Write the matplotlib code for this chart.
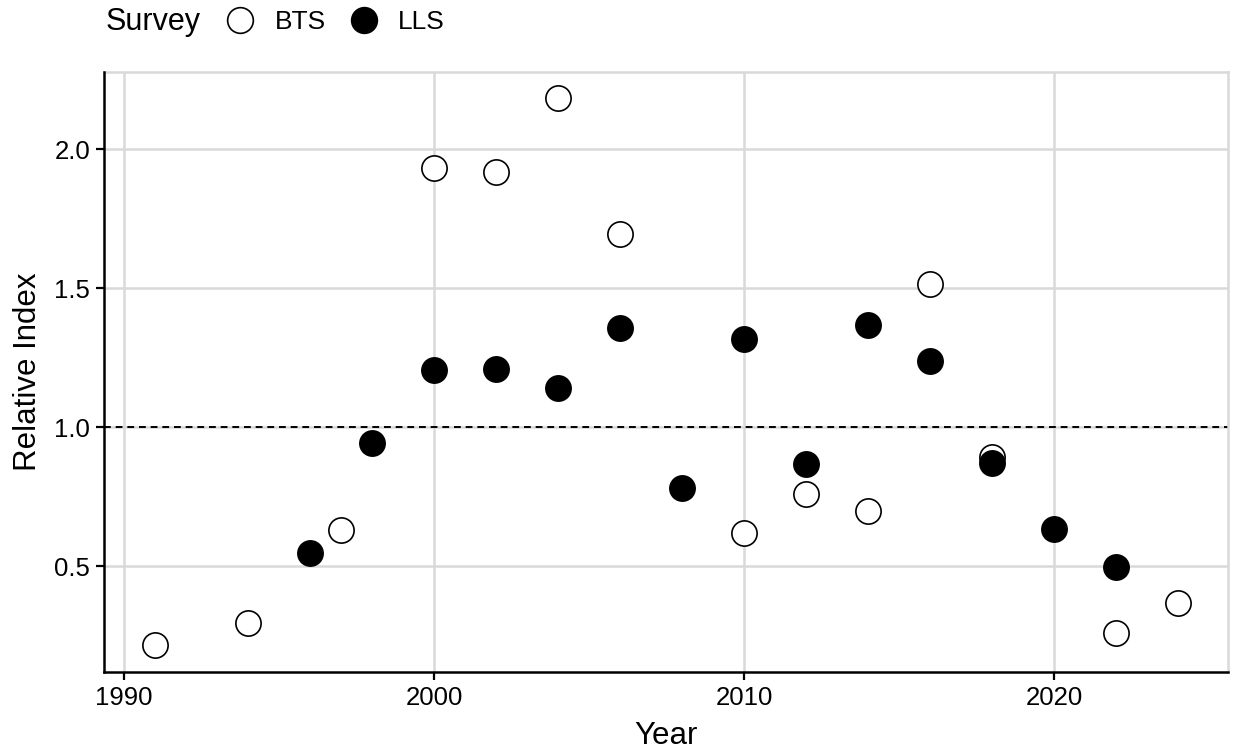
import numpy as np
import matplotlib.pyplot as plt
from matplotlib.lines import Line2D

plt.rcParams['font.family'] = ['Liberation Sans', 'DejaVu Sans']

# survey index values by year
bts_years = [1991, 1994, 1997, 2000, 2002, 2004, 2006, 2010, 2012, 2014, 2016, 2018, 2022, 2024]
bts_index = [0.216, 0.295, 0.63, 1.932, 1.917, 2.183, 1.694, 0.619, 0.759, 0.698, 1.514, 0.892, 0.259, 0.367]

lls_years = [1996, 1998, 2000, 2002, 2004, 2006, 2008, 2010, 2012, 2014, 2016, 2018, 2020, 2022]
lls_index = [0.547, 0.942, 1.205, 1.209, 1.140, 1.356, 0.781, 1.317, 0.867, 1.367, 1.237, 0.871, 0.633, 0.496]

fig = plt.figure(figsize=(12.35, 7.51), dpi=100)
ax = fig.add_axes([104/1235, 1 - 672/751, (1228 - 104)/1235, (672 - 72)/751])

grid_col = '#d9d9d9'
ax.set_xlim(1989.35, 2025.61)
ax.set_ylim(0.119, 2.277)
ax.set_xticks([1990, 2000, 2010, 2020])
ax.set_yticks([0.5, 1.0, 1.5, 2.0])
ax.set_yticklabels(['0.5', '1.0', '1.5', '2.0'])
ax.grid(True, color=grid_col, lw=1.8, zorder=0)
ax.set_axisbelow(True)

for s in ['top', 'right']:
    ax.spines[s].set_color(grid_col)
    ax.spines[s].set_linewidth(1.8)
for s in ['left', 'bottom']:
    ax.spines[s].set_color('black')
    ax.spines[s].set_linewidth(1.8)
    ax.spines[s].set_zorder(5)

ax.tick_params(axis='both', length=6, width=1.6, color='black',
               labelsize=18.5, labelcolor='black', pad=4)

ax.axhline(1.0, color='black', lw=1.4, ls=(0, (3.5, 2.5)), zorder=1)

ax.scatter(bts_years, bts_index, s=330, facecolors='white', edgecolors='black',
           linewidths=1.2, zorder=3)
ax.scatter(lls_years, lls_index, s=330, facecolors='black', edgecolors='black',
           linewidths=1.2, zorder=4)

ax.set_xlabel('Year', fontsize=22.5, labelpad=8)
ax.set_ylabel('Relative Index', fontsize=22.5, labelpad=8)

# legend across the top
fig.text(106/1235, 1 - 22/751, 'Survey', fontsize=22, va='center', ha='left')
handles = [
    Line2D([], [], ls='none', marker='o', ms=18.5, mfc='white', mec='black', mew=1.2),
    Line2D([], [], ls='none', marker='o', ms=18.5, mfc='black', mec='black', mew=1.2),
]
fig.legend(handles, ['BTS', 'LLS'], loc='center left',
           bbox_to_anchor=(227/1235, 1 - 22/751), ncol=2, frameon=False,
           fontsize=19, handlelength=1.0, handletextpad=0.8, columnspacing=0.95,
           borderpad=0, borderaxespad=0)

fig.savefig('out.png', dpi=100)
